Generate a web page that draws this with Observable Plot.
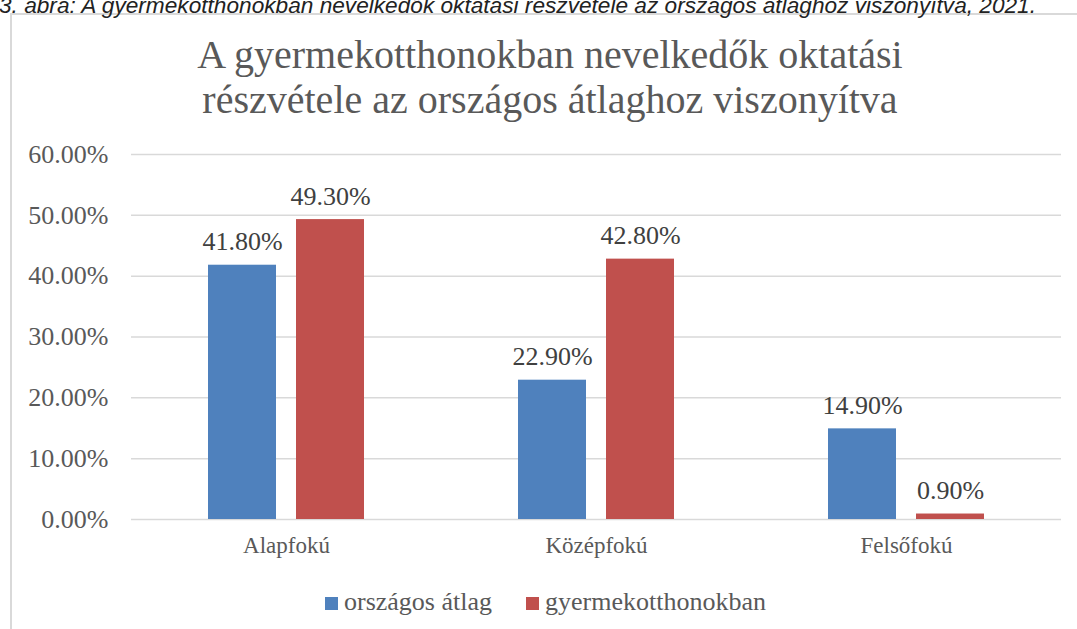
<!DOCTYPE html>
<html>
<head>
<meta charset="utf-8">
<script src="https://cdn.jsdelivr.net/npm/d3@7"></script>
<script src="https://cdn.jsdelivr.net/npm/@observablehq/plot@0.6"></script>
<style>
  html, body { margin:0; padding:0; background:#fff; }
  #wrap { position:relative; width:1077px; height:629px; overflow:hidden; background:#fff; font-family:"Liberation Serif", serif; }
  #caption { position:absolute; left:0; top:-8px; }
  #frame { position:absolute; left:10px; top:13px; width:1200px; height:700px; border:2px solid #d9d9d9; box-sizing:border-box; }
  #title { position:absolute; left:0; width:1100px; top:32px; text-align:center; font-size:40px; line-height:45px; color:#595959; }
  #chart { position:absolute; left:0; top:120px; }
  #legend { position:absolute; left:0; width:1077px; top:587px; display:flex; justify-content:center; gap:34px; font-size:26px; color:#595959; padding-left:14px; box-sizing:border-box;}
  #legend .item { display:flex; align-items:center; }
  #legend .sw { width:13px; height:13px; margin-right:6px; margin-top:2px; }
</style>
</head>
<body>
<div id="wrap">
  <div id="frame"></div>
  <svg id="caption" width="1077" height="30"></svg>
  <div id="title"></div>
  <div id="chart"></div>
  <div id="legend"></div>
</div>
<script>
const captionText = "3. ábra: A gyermekotthonokban nevelkedők oktatási részvétele az országos átlaghoz viszonyítva, 2021.";
const titleLines = ["A gyermekotthonokban nevelkedők oktatási", "részvétele az országos átlaghoz viszonyítva"];
const categories = ["Alapfokú", "Középfokú", "Felsőfokú"];
const series = ["országos átlag", "gyermekotthonokban"];
const orszagosAtlag = [0.418, 0.229, 0.149];
const gyermekotthonokban = [0.493, 0.428, 0.009];
const yTicks = [0, 0.1, 0.2, 0.3, 0.4, 0.5, 0.6];
const colors = ["#4F81BD", "#C0504D"];

const seriesValues = [orszagosAtlag, gyermekotthonokban];
const data = categories.flatMap((c, i) => series.map((s, j) => ({cat: c, series: s, value: seriesValues[j][i]})));

// caption (cut off at the top, as in the source)
const cap = d3.select("#caption");
cap.append("text")
  .attr("x", -1).attr("y", 21)
  .attr("textLength", 1037).attr("lengthAdjust", "spacingAndGlyphs")
  .attr("font-family", "'Liberation Sans Narrow','Liberation Sans',sans-serif")
  .attr("font-style", "italic")
  .attr("font-size", 22).attr("fill", "#222")
  .text(captionText);

document.getElementById("title").innerHTML = titleLines.map(l => `<div>${l}</div>`).join("");

const ff = "Liberation Serif";
const fmt = d3.format(".2%");
const chart = Plot.plot({
  width: 1077,
  height: 460,
  marginTop: 34,
  marginBottom: 61,
  marginLeft: 130,
  marginRight: 15,
  style: {fontFamily: ff, fontSize: "26px", color: "#595959", background: "transparent", overflow: "visible"},
  fx: {domain: categories, padding: 0, label: null},
  x: {domain: series, paddingInner: 0.2247, paddingOuter: 0.854, axis: null},
  y: {domain: [0, 0.6], label: null},
  color: {domain: series, range: colors},
  marks: [
    Plot.gridY(yTicks, {stroke: "#d9d9d9", strokeOpacity: 1, strokeWidth: 1.5}),
    Plot.axisY(yTicks, {tickFormat: fmt, tickSize: 0, tickPadding: 23, label: null, fill: "#595959", fontSize: 26, fontFamily: ff}),
    Plot.axisFx({anchor: "bottom", tickSize: 0, tickPadding: 17, label: null, fill: "#595959", fontSize: 23, fontFamily: ff}),
    Plot.barY(data, {fx: "cat", x: "series", y: "value", fill: "series"}),
    Plot.text(data, {fx: "cat", x: "series", y: "value", text: d => fmt(d.value), lineAnchor: "bottom", dy: -15, fill: "#404040", fontSize: 26, fontFamily: ff})
  ]
});
document.getElementById("chart").appendChild(chart);

const legend = d3.select("#legend");
series.forEach((s, i) => {
  const it = legend.append("div").attr("class", "item");
  it.append("div").attr("class", "sw").style("background", colors[i]);
  it.append("span").text(s);
});
</script>
</body>
</html>
